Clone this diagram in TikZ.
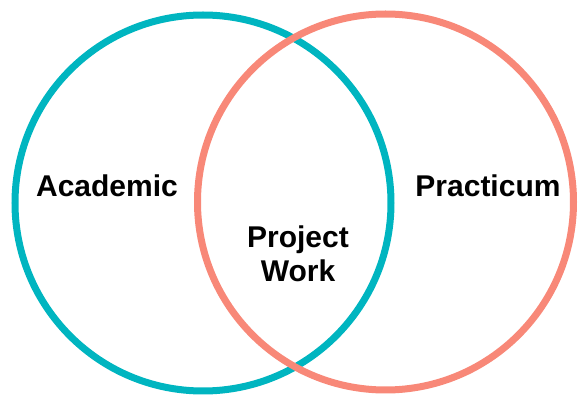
\documentclass[tikz,border=0pt]{standalone}
\usepackage{fontspec}
\setmainfont{Liberation Sans}
\definecolor{teal}{HTML}{00B5C0}
\definecolor{salmon}{HTML}{F88878}
\begin{document}
\begin{tikzpicture}[x=1pt,y=-1pt,
  ring/.style={line width=7pt},
  lbl/.style={font=\fontsize{30}{34}\selectfont\bfseries, inner sep=0pt, anchor=base, align=center}]
\useasboundingbox (0,0) rectangle (582,398);
\draw[ring, teal] (203,203) circle[radius=188];
\draw[ring, salmon] (385.5,202) circle[radius=188];
\node[lbl] (academic) at (107,197) {Academic};
\node[lbl] (practicum) at (488,197) {Practicum};
\node[lbl, anchor=north] (project) at (298,226) {Project\\Work};
\end{tikzpicture}
\end{document}
